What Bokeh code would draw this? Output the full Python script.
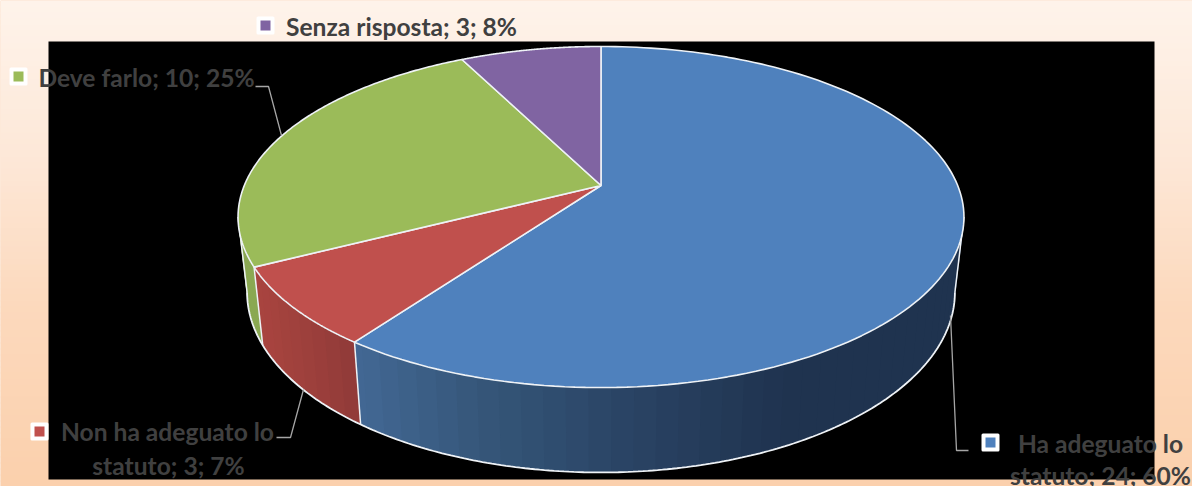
import numpy as np
from bokeh.embed import file_html
from bokeh.models import Range1d
from bokeh.plotting import figure
from bokeh.resources import INLINE
from bokeh.core.properties import value

# Survey answers, in clockwise order from twelve o'clock
names = ["Ha adeguato lo statuto", "Non ha adeguato lo statuto", "Deve farlo", "Senza risposta"]
counts = [24, 3, 10, 3]
percents = [60, 7, 25, 8]
colors = ["#4f81bd", "#c0504d", "#9bbb59", "#8064a2"]

WIDTH, HEIGHT = 1192, 486
CX = 600.5
K = 0.1848            # perspective strength of the tilted disc
TOP = dict(r=356.7, s=164.7, y0=185.0)
BASE = dict(r=347.8, s=174.0, y0=258.5)
EDGE = "#eef2f6"
TEXT = "#404040"
LEADER = "#a6a6a6"


def rim(theta_deg, plane):
    t = np.radians(theta_deg)
    w = 1 + K * np.cos(t)
    return CX + plane["r"] * np.sin(t) / w, plane["y0"] - plane["s"] * np.cos(t) / w


def lerp_hex(stops, x):
    xs = [s[0] for s in stops]
    rgb = [np.interp(x, xs, [int(s[1][i:i + 2], 16) for s in stops]) for i in (1, 3, 5)]
    return "#%02x%02x%02x" % tuple(int(round(c)) for c in rgb)


p = figure(width=WIDTH, height=HEIGHT, output_backend="svg", toolbar_location=None,
           x_range=Range1d(0, WIDTH), y_range=Range1d(HEIGHT, 0), min_border=0)
p.axis.visible = False
p.grid.visible = False
p.outline_line_color = None
p.background_fill_color = "#fcd3b1"
p.border_fill_color = "#fcd3b1"

# Page background: pale cream fading down to peach
bands = np.linspace(0, HEIGHT, 82)
band_colors = [lerp_hex([(0, "#fef3ea"), (150, "#fde8d8"), (300, "#fcd9bd"), (486, "#fbd0ac")], y) for y in bands[:-1]]
p.quad(left=0, right=WIDTH, top=bands[:-1], bottom=bands[1:] + 1, fill_color=band_colors, line_color=None)

# Black plot panel
p.quad(left=48, right=1154, top=41, bottom=479, fill_color="#000000", line_color=None)

# Slice boundaries, in degrees clockwise from the top
edges = np.cumsum([0] + counts) / sum(counts) * 360.0

# Silhouette angles where the disc's outline reaches its left and right extremes
visible_from = np.degrees(np.arccos(-K))
visible_to = 360 - visible_from

wall_stops = {
    0: [(360, "#426793"), (480, "#355679"), (620, "#2a4465"), (780, "#1f334f"), (970, "#1f334f")],
    1: [(262, "#a8443f"), (360, "#8f3a38")],
    2: [(240, "#8aa852"), (265, "#8aa852")],
}

# Outer wall: each strip runs on under the next one, which hides the joins
for i in range(3):
    a = max(edges[i], visible_from)
    b = min(edges[i + 1], visible_to)
    steps = np.arange(a, b + 3.0, 3.0)
    steps[-1] = b
    for t0, t1 in zip(steps[:-1], steps[1:]):
        t_end = min(t1 + 1.0, b)
        x0, y0 = rim(t0, TOP)
        x1, y1 = rim(t_end, TOP)
        x2, y2 = rim(t_end, BASE)
        x3, y3 = rim(t0, BASE)
        c = lerp_hex(wall_stops[i], (x0 + x1 + x2 + x3) / 4)
        p.patch([x0, x1, x2, x3], [y0, y1, y2, y3], fill_color=c, line_color=None)

# Bottom rim and wall seams
ts = np.linspace(visible_from, visible_to, 240)
bx, by = rim(ts, BASE)
p.line(bx, by, line_color=EDGE, line_width=1.8)
for t in (edges[1], edges[2], visible_from, visible_to):
    xa, ya = rim(t, TOP)
    xb, yb = rim(t, BASE)
    p.line([xa, xb], [ya, yb], line_color=EDGE, line_width=1.5)

# Top faces of the slices
for i, col in enumerate(colors):
    ts = np.linspace(edges[i], edges[i + 1], 160)
    rx, ry = rim(ts, TOP)
    p.patch(np.r_[CX, rx], np.r_[TOP["y0"], ry], fill_color=col, line_color=EDGE, line_width=1.6)

# Leader lines
leaders = [
    ([950, 956, 968], [315, 450, 450]),
    ([303, 290, 276], [389, 437, 437]),
    ([281, 268, 255], [135, 86, 86]),
]
for lx, ly in leaders:
    p.line(lx, ly, line_color=LEADER, line_width=1.3)

# Data labels: text lines and their legend keys
label_lines = [
    (f"{names[0].rsplit(' ', 1)[0]}", f"{names[0].rsplit(' ', 1)[1]}; {counts[0]}; {percents[0]}%"),
    (f"{names[1].rsplit(' ', 1)[0]}", f"{names[1].rsplit(' ', 1)[1]}; {counts[1]}; {percents[1]}%"),
    (f"{names[2]}; {counts[2]}; {percents[2]}%",),
    (f"{names[3]}; {counts[3]}; {percents[3]}%",),
]
label_anchors = [[(1100, 443), (1100, 475)], [(167, 431), (168, 465)], [(146, 77)], [(401, 26)]]
key_centers = [(990, 442), (39, 431), (18, 76), (265, 25)]

for i in range(4):
    for line, (tx, ty) in zip(label_lines[i], label_anchors[i]):
        p.text([tx], [ty], text=[line], text_font=value("Lato"), text_font_style="bold",
               text_font_size="24.6px", text_color=TEXT, text_align="center", text_baseline="middle")
    kx, ky = key_centers[i]
    p.scatter([kx], [ky], marker="square", size=15, fill_color="#ffffff", line_color="#ffffff",
              line_width=3, line_join="round")
    p.scatter([kx], [ky], marker="square", size=10, fill_color=colors[i], line_color=None)

open("out.html", "w").write(file_html(p, INLINE))
